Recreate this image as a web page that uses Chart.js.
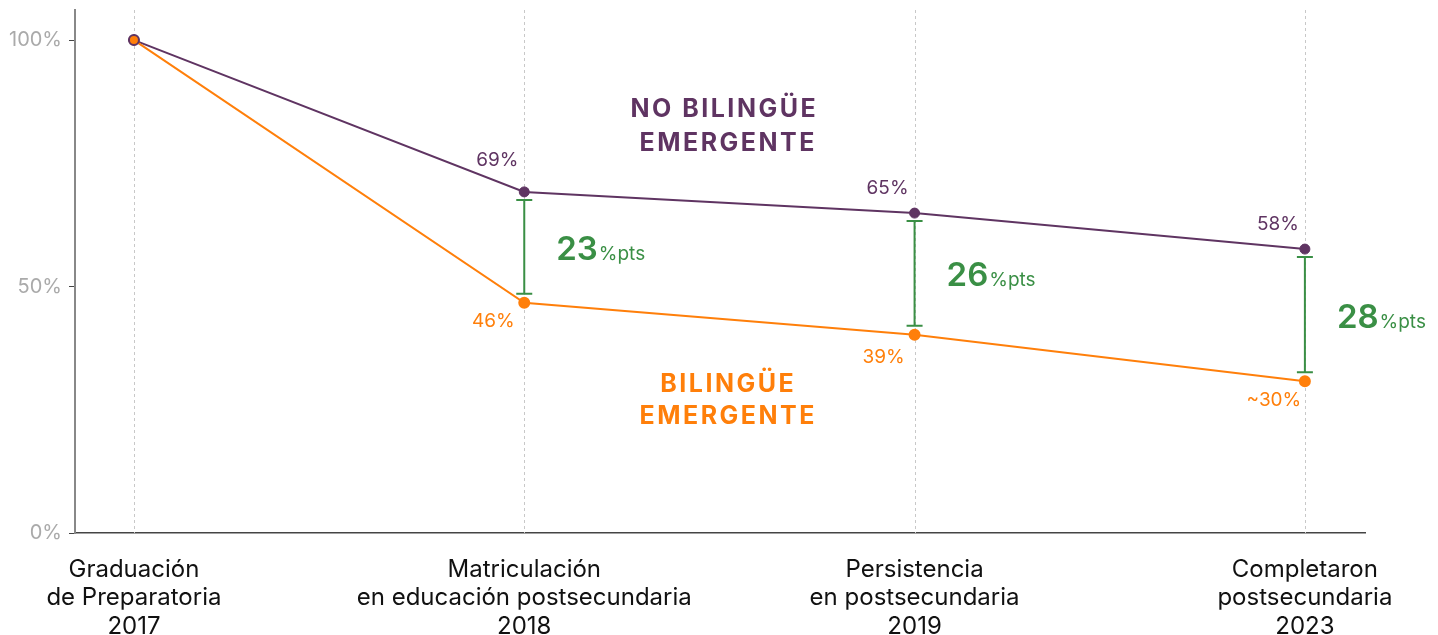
<!DOCTYPE html>
<html><head><meta charset="utf-8">
<script src="https://cdn.jsdelivr.net/npm/chart.js@4.4.1/dist/chart.umd.min.js"></script>
<style>html,body{margin:0;padding:0;background:#fff}#wrap{width:1438px;height:635px;position:relative}</style>
</head><body><div id="wrap"><canvas id="c"></canvas></div>
<script>
const categories = [["Graduación","de Preparatoria","2017"],["Matriculación","en educación postsecundaria","2018"],["Persistencia","en postsecundaria","2019"],["Completaron","postsecundaria","2023"]];
const noBilingueValues = [100, 69.2, 64.9, 57.6];
const bilingueValues = [100, 46.7, 40.2, 30.8];
const noBilingueLabels = ["", "69%", "65%", "58%"];
const bilingueLabels = ["", "46%", "39%", "~30%"];
const gapLabels = ["", "23", "26", "28"];
const yTicks = [0, 50, 100];
const noBilingueName = ["NO BILINGÜE", "EMERGENTE"];
const bilingueName = ["BILINGÜE", "EMERGENTE"];

const PURPLE = '#5f3462', ORANGE = '#ff7f0a', GREEN = '#3a8f45';
const FONT = 'Inter, "Open Sans", sans-serif';

const annot = {
  id: 'annot',
  beforeDatasetsDraw(chart) {
    const {ctx, chartArea, scales: {x}} = chart;
    ctx.save();
    ctx.strokeStyle = '#c8c8c8'; ctx.lineWidth = 1; ctx.setLineDash([3, 3]);
    categories.forEach((c, i) => {
      const px = Math.round(x.getPixelForValue(i)) + 0.5;
      ctx.beginPath(); ctx.moveTo(px, chartArea.top); ctx.lineTo(px, chartArea.bottom); ctx.stroke();
    });
    ctx.restore();
  },
  afterDatasetsDraw(chart) {
    const {ctx, scales: {x, y}} = chart;
    ctx.save();
    for (let i = 1; i < categories.length; i++) {
      const px = x.getPixelForValue(i);
      const top = y.getPixelForValue(noBilingueValues[i]) + 8;
      const bot = y.getPixelForValue(bilingueValues[i]) - 9;
      ctx.strokeStyle = GREEN; ctx.lineWidth = 2; ctx.setLineDash([]);
      ctx.beginPath();
      ctx.moveTo(px, top); ctx.lineTo(px, bot);
      ctx.moveTo(px - 8, top); ctx.lineTo(px + 8, top);
      ctx.moveTo(px - 8, bot); ctx.lineTo(px + 8, bot);
      ctx.stroke();
      const mid = (top + bot) / 2;
      ctx.fillStyle = GREEN; ctx.textBaseline = 'alphabetic'; ctx.textAlign = 'left';
      ctx.font = `600 33px ${FONT}`;
      const tx = px + 32, base = mid + 13;
      ctx.fillText(gapLabels[i], tx, base);
      const w = ctx.measureText(gapLabels[i]).width;
      ctx.font = `400 19px ${FONT}`;
      ctx.fillText('%pts', tx + w + 1, base);
    }
    const upOff = [0, -32, -25, -25], dnOff = [0, 18, 22, 19];
    ctx.textAlign = 'center'; ctx.textBaseline = 'middle';
    ctx.font = `400 19px ${FONT}`;
    for (let i = 1; i < categories.length; i++) {
      const px = x.getPixelForValue(i);
      ctx.fillStyle = PURPLE;
      ctx.fillText(noBilingueLabels[i], px - 27, y.getPixelForValue(noBilingueValues[i]) + upOff[i]);
      ctx.fillStyle = ORANGE;
      ctx.fillText(bilingueLabels[i], px - 31, y.getPixelForValue(bilingueValues[i]) + dnOff[i]);
    }
    ctx.font = `700 25px ${FONT}`;
    ctx.letterSpacing = '2.5px';
    ctx.fillStyle = PURPLE;
    ctx.fillText(noBilingueName[0], x.getPixelForValue(1.51) + 1, y.getPixelForValue(86.0));
    ctx.fillText(noBilingueName[1], x.getPixelForValue(1.52) + 1, y.getPixelForValue(79.1));
    ctx.fillStyle = ORANGE;
    ctx.fillText(bilingueName[0], x.getPixelForValue(1.52) + 1, y.getPixelForValue(30.1));
    ctx.fillText(bilingueName[1], x.getPixelForValue(1.52) + 1, y.getPixelForValue(23.6));
    ctx.restore();
  }
};

const pts = arr => arr.map((v, i) => ({x: i, y: v}));

new Chart(document.getElementById('c'), {
  type: 'line',
  data: {
    datasets: [
      {
        label: 'Bilingüe emergente', data: pts(bilingueValues), order: 0,
        borderColor: ORANGE, borderWidth: 2, backgroundColor: ORANGE,
        pointBackgroundColor: ORANGE,
        pointBorderColor: bilingueValues.map((v, i) => i === 0 ? PURPLE : ORANGE),
        pointBorderWidth: 2, pointRadius: 5, tension: 0
      },
      {
        label: 'No bilingüe emergente', data: pts(noBilingueValues), order: 1,
        borderColor: PURPLE, borderWidth: 2, backgroundColor: PURPLE,
        pointBackgroundColor: PURPLE, pointBorderColor: PURPLE,
        pointBorderWidth: 1, pointRadius: 5, tension: 0
      }
    ]
  },
  options: {
    responsive: true, maintainAspectRatio: false, animation: false,
    layout: {padding: {left: 0, right: 73, top: 10, bottom: 0}},
    plugins: {legend: {display: false}, tooltip: {enabled: false}},
    scales: {
      x: {
        type: 'linear', min: -0.151, max: 3.154,
        afterBuildTicks: s => { s.ticks = categories.map((c, i) => ({value: i})); },
        afterFit: s => { s.height = 102; s.paddingLeft = 0; s.paddingRight = 0; },
        ticks: {
          callback: v => categories[v], color: '#111', padding: 14,
          font: {family: FONT, size: 24, lineHeight: 1.2}, maxRotation: 0, autoSkip: false
        },
        grid: {display: false},
        border: {display: true, color: '#444', width: 1.5}
      },
      y: {
        min: 0, max: 106.1,
        afterBuildTicks: s => { s.ticks = yTicks.map(v => ({value: v})); },
        afterFit: s => { s.width = 75; s.paddingTop = 0; s.paddingBottom = 0; },
        ticks: {callback: v => v + '%', color: '#aaa', padding: 7, font: {family: FONT, size: 20}},
        grid: {drawOnChartArea: false, drawTicks: true, tickLength: 6, tickColor: '#444', tickWidth: 1},
        border: {display: true, color: '#888', width: 2}
      }
    }
  },
  plugins: [annot]
});
</script></body></html>
